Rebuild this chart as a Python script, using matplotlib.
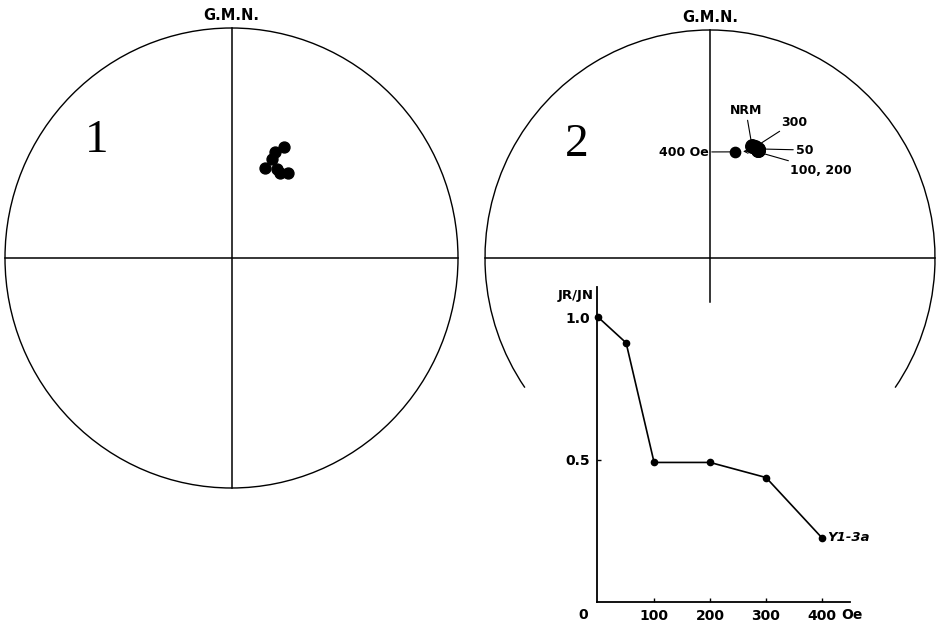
'''Stereonet plots of remanence directions with AF demagnetization curve'''

# Libraries
import numpy as np
import matplotlib
matplotlib.use('Agg')
import matplotlib.pyplot as plt
from matplotlib.patches import Ellipse, Arc

# Data
# Panel 1: site directions (declination, inclination in degrees)
left_dec = [25.5, 22.1, 22.5, 20.7, 27.3, 29.5, 33.8]
left_inc = [45.2, 48.4, 51.2, 55.3, 53.8, 54.8, 53.0]

# Panel 2: AF demagnetization steps of specimen Y1-3a
steps = ['NRM', '50', '100', '200', '300', '400']
right_dec = [20.6, 23.8, 24.0, 24.0, 22.1, 13.3]
right_inc = [46.1, 46.2, 46.6, 46.6, 46.0, 50.1]

# Intensity decay curve
af_field = [0, 50, 100, 200, 300, 400]
intensity = [1.0, 0.91, 0.49, 0.49, 0.437, 0.225]
x_ticks = [100, 200, 300, 400]
x_tick_labels = ['100', '200', '300', '400']
y_ticks = [0.5, 1.0]
y_tick_labels = ['0.5', '1.0']

SANS = ['Liberation Sans Narrow', 'DejaVu Sans']
SERIF = ['Liberation Serif', 'DejaVu Serif']


# Defined Functions
def project(dec, inc, cx, cy, rx, ry):
    '''Equal-area projection onto a net centred at (cx, cy) in pixels'''
    dec = np.radians(np.asarray(dec))
    p = np.radians(90.0 - np.abs(np.asarray(inc)))
    r = np.sqrt(2.0) * np.sin(p / 2.0)
    return cx + rx * r * np.sin(dec), cy - ry * r * np.cos(dec)


def draw_net(ax, cx, cy, rx, ry, full=True, v_bottom=None):
    '''Primitive circle with N-S and E-W lines'''
    if full:
        ax.add_patch(Ellipse((cx, cy), 2 * rx, 2 * ry, fill=False,
                             lw=1.0, color='black'))
    else:
        # only the part above the inset graph is drawn
        # (y axis is inverted, so angles run clockwise on screen)
        ax.add_patch(Arc((cx, cy), 2 * rx, 2 * ry, theta1=145, theta2=395,
                         lw=1.0, color='black'))
    ax.plot([cx - rx, cx + rx], [cy, cy], color='black', lw=1.1)
    bottom = cy + ry if v_bottom is None else v_bottom
    ax.plot([cx, cx], [cy - ry, bottom], color='black', lw=1.1)
    ax.text(cx, cy - ry - 13, 'G.M.N.', ha='center', va='center',
            fontsize=10.5, fontweight='bold', family=SANS)


# Main Area
if __name__ == "__main__":
    fig = plt.figure(figsize=(9.36, 6.27), dpi=100)
    ax = fig.add_axes([0, 0, 1, 1])
    ax.set_xlim(0, 936)
    ax.set_ylim(627, 0)
    ax.axis('off')

    # Panel 1
    draw_net(ax, 231.5, 258, 226.5, 230)
    ax.text(97, 141, '1', ha='center', va='center', fontsize=34, family=SERIF)
    lx, ly = project(left_dec, left_inc, 231.5, 258, 228, 228)
    ax.scatter(lx, ly, s=62, color='black', zorder=3)

    # Panel 2
    draw_net(ax, 710, 258, 225, 228, full=False, v_bottom=302)
    ax.text(577, 145, '2', ha='center', va='center', fontsize=34, family=SERIF)
    rx, ry = project(right_dec, right_inc, 710, 258, 226, 226)
    ax.scatter(rx[:5], ry[:5], s=95, color='black', zorder=3)
    ax.scatter(rx[5:], ry[5:], s=55, color='black', zorder=3)

    # Step labels with leader lines
    lab_kw = dict(fontsize=9, fontweight='bold', family=SANS, va='center')
    line_kw = dict(arrowstyle='-', color='black', lw=0.8, shrinkA=0, shrinkB=3)
    ax.annotate(steps[0], xy=(rx[0], ry[0]), xytext=(746, 111), ha='center',
                arrowprops=line_kw, **lab_kw)
    ax.annotate(steps[4], xy=(rx[4], ry[4]), xytext=(781, 122), ha='left',
                arrowprops=line_kw, **lab_kw)
    ax.annotate(steps[1], xy=(rx[1], ry[1]), xytext=(796, 150), ha='left',
                arrowprops=line_kw, **lab_kw)
    ax.annotate(steps[2] + ', ' + steps[3], xy=(rx[2], ry[2] + 2),
                xytext=(790, 170), ha='left', arrowprops=line_kw, **lab_kw)
    ax.annotate(steps[5] + ' Oe', xy=(rx[5], ry[5]), xytext=(709, 152),
                ha='right', arrowprops=line_kw, **lab_kw)
    # small arrow head showing the move towards 400 Oe
    ax.annotate('', xy=(rx[5] + 8, ry[5] - 0.5), xytext=(rx[5] + 14, ry[5] - 0.5),
                arrowprops=dict(arrowstyle='->', color='black', lw=0.7,
                                mutation_scale=7, shrinkA=0, shrinkB=0))

    # Inset intensity curve
    ins = fig.add_axes([597 / 936, 1 - 602 / 627, 253 / 936, 315 / 627])
    ins.plot(af_field, intensity, color='black', lw=1.2, marker='o',
             markersize=4.5, clip_on=False)
    ins.set_xlim(-2, 450)
    ins.set_ylim(0, 1.106)
    for side in ['top', 'right']:
        ins.spines[side].set_visible(False)
    for side in ['left', 'bottom']:
        ins.spines[side].set_linewidth(1.3)
    ins.patch.set_alpha(0)
    ins.set_xticks(x_ticks)
    ins.set_xticklabels(x_tick_labels)
    ins.set_yticks(y_ticks)
    ins.set_yticklabels(y_tick_labels)
    ins.tick_params(direction='in', length=3, width=1.0, pad=5, labelsize=10)
    for lab in ins.get_xticklabels() + ins.get_yticklabels():
        lab.set_fontweight('bold')
        lab.set_family(SANS)
    ins.text(-27, -0.045, '0', ha='center', va='center', fontsize=10,
             fontweight='bold', family=SANS)
    ins.text(435, -0.045, 'Oe', ha='left', va='center', fontsize=10,
             fontweight='bold', family=SANS)
    ins.text(-8, 1.075, 'JR/JN', ha='right', va='center', fontsize=9.5,
             fontweight='bold', family=SANS)
    ins.text(410, intensity[-1], 'Y1-3a', ha='left', va='center', fontsize=9.5,
             fontweight='bold', style='italic', family=SANS)

    plt.savefig('out.png', dpi=100)
